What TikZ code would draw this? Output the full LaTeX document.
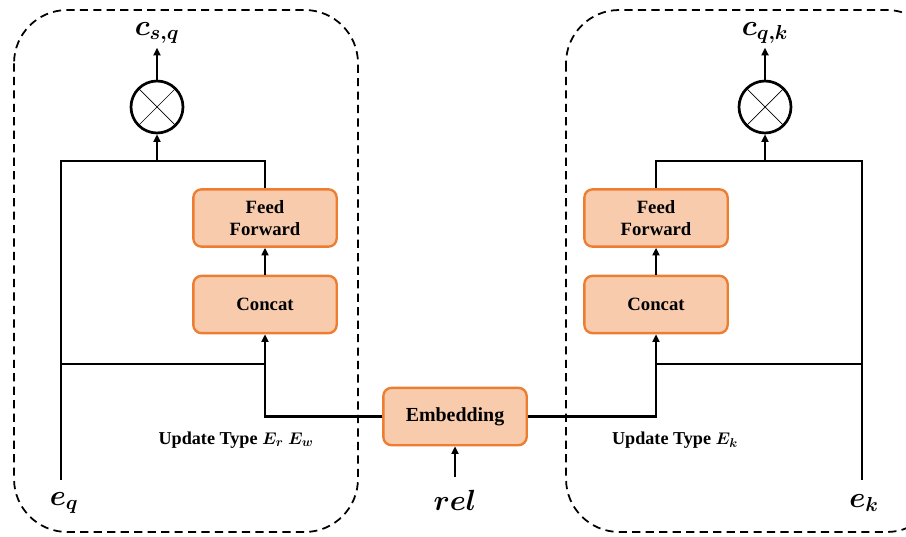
\documentclass[tikz,border=0pt]{standalone}
\usepackage{amsmath,amssymb,bm}
\usepackage{fontspec}
\setmainfont{Liberation Serif}
\usepackage{tikz}
\usetikzlibrary{positioning,arrows.meta,calc}
\definecolor{boxfill}{HTML}{F8CBAD}
\definecolor{boxline}{HTML}{ED7D31}

\tikzset{
  blk/.style={draw=boxline, fill=boxfill, line width=2pt, rounded corners=7pt,
    minimum width=4.3cm, minimum height=1.72cm, align=center,
    font=\fontsize{16}{19}\selectfont\bfseries},
  mult/.style={circle, draw, line width=2.3pt, minimum size=1.56cm, inner sep=0pt,
    path picture={
      \draw[line width=0.6pt] (path picture bounding box.south west) -- (path picture bounding box.north east);
      \draw[line width=0.6pt] (path picture bounding box.north west) -- (path picture bounding box.south east);
    }},
  wire/.style={line width=2.2pt},
  arr/.style={wire, -{Triangle[length=6.5pt,width=6pt]}},
  grp/.style={dash pattern=on 7pt off 4.5pt, line width=1.5pt, rounded corners=1.6cm},
  lbl/.style={font=\fontsize{24}{26}\selectfont},
  upd/.style={font=\fontsize{15.5}{18}\selectfont\bfseries}
}

\begin{document}
\begin{tikzpicture}[x=0.03cm, y=-0.03cm]
  \clip (0,0) rectangle (906,536);

  % dashed groups
  \draw[grp] (14,10) rectangle (358,532);
  \draw[grp] (566,10) rectangle (940,532);

  % left branch
  \node[mult] (mulL) at (157,107) {};
  \node[lbl] (csq) at (157,33) {$\bm{c}_{\bm{s,q}}$};
  \node[blk] (ffL) at (265,218) {Feed\\Forward};
  \node[blk] (catL) at (265,304.5) {Concat};
  \node[lbl] (eq) at (64,503) {$\bm{e}_{\bm{q}}$};
  \node[upd] (updL) at (236,440) {Update Type $\bm{E}_{\bm{r}}$ $\bm{E}_{\bm{w}}$};

  % right branch
  \node[mult] (mulR) at (765,107) {};
  \node[lbl] (cqk) at (765,33) {$\bm{c}_{\bm{q,k}}$};
  \node[blk] (ffR) at (656,218) {Feed\\Forward};
  \node[blk] (catR) at (656,304.5) {Concat};
  \node[lbl] (ek) at (864,503) {$\bm{e}_{\bm{k}}$};
  \node[upd] (updR) at (675,440) {Update Type $\bm{E}_{\bm{k}}$};

  % middle
  \node[blk, font=\fontsize{17}{19}\selectfont\bfseries] (emb) at (455,416.5) {Embedding};
  \node[lbl] (rel) at (455,500) {$\bm{rel}$};

  \coordinate (eqEnd) at (61,480);
  \coordinate (barL) at (157,161);
  \coordinate (midL) at (61,364);
  \coordinate (ekEnd) at (862,480);
  \coordinate (barR) at (765,161);
  \coordinate (midR) at (862,364);
  \coordinate (relEnd) at (455,477);

  % left wires
  \draw[wire] (eqEnd) -- (eqEnd |- barL) -- (ffL.north |- barL) -- (ffL.north);
  \draw[arr] (barL) -- (mulL.south);
  \draw[arr] (mulL.north) -- (csq.south);
  \draw[arr] (catL.north) -- (ffL.south);
  \draw[wire] (midL) -- (catL.south |- midL);
  \draw[arr] (emb.west) -| (catL.south);

  % right wires
  \draw[wire] (ekEnd) -- (ekEnd |- barR) -- (ffR.north |- barR) -- (ffR.north);
  \draw[arr] (barR) -- (mulR.south);
  \draw[arr] (mulR.north) -- (cqk.south);
  \draw[arr] (catR.north) -- (ffR.south);
  \draw[wire] (midR) -- (catR.south |- midR);
  \draw[arr] (emb.east) -| (catR.south);

  % relation input
  \draw[arr] (relEnd) -- (emb.south);
\end{tikzpicture}
\end{document}
